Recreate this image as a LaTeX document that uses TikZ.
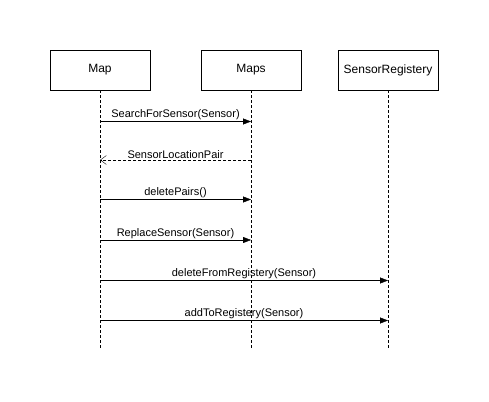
\documentclass[tikz,border=0pt]{standalone}
\usepackage{fontspec}
\setmainfont{Liberation Sans}
\usetikzlibrary{arrows.meta}
\tikzset{>=latex}
\tikzset{
  lifebox/.style = {draw, thick, minimum width = 100pt, minimum height = 40pt, inner sep = 0pt, font = \fontsize{12}{14}\selectfont},
  lifeline/.style = {dashed, dash pattern = on 3pt off 2pt},
  msg/.style = {-{Triangle[length = 8pt, width = 6pt]}},
  reply/.style = {dashed, dash pattern = on 3pt off 2pt, -{Straight Barb[length = 6pt, width = 9pt]}},
  msglabel/.style = {midway, above, inner sep = 1.5pt, font = \fontsize{11}{13}\selectfont}
}

\begin{document}
\begin{tikzpicture}[x = 1pt, y = -1pt]
\useasboundingbox (0,0) rectangle (489,401);

% participants
\node[lifebox] (Map) at (100,70) {Map};
\node[lifebox] (Maps) at (251,70) {Maps};
\node[lifebox] (Reg) at (388,70) {SensorRegistery};

% lifelines
\coordinate (MapEnd) at (100,350);
\coordinate (MapsEnd) at (251,350);
\coordinate (RegEnd) at (388,350);
\draw[lifeline] (Map) -- (MapEnd);
\draw[lifeline] (Maps) -- (MapsEnd);
\draw[lifeline] (Reg) -- (RegEnd);

% messages
\draw[msg] (Map |- 0,121.5) -- (Maps |- 0,121.5) node[msglabel] {SearchForSensor(Sensor)};
\draw[reply] (Maps |- 0,160) -- (Map |- 0,160) node[msglabel] {SensorLocationPair};
\draw[msg] (Map |- 0,199.5) -- (Maps |- 0,199.5) node[msglabel] {deletePairs()};
\draw[msg] (Map |- 0,240) -- (Maps |- 0,240) node[msglabel] {ReplaceSensor(Sensor)};
\draw[msg] (Map |- 0,280.5) -- (Reg |- 0,280.5) node[msglabel] {deleteFromRegistery(Sensor)};
\draw[msg] (Map |- 0,320.5) -- (Reg |- 0,320.5) node[msglabel] {addToRegistery(Sensor)};

\end{tikzpicture}
\end{document}
